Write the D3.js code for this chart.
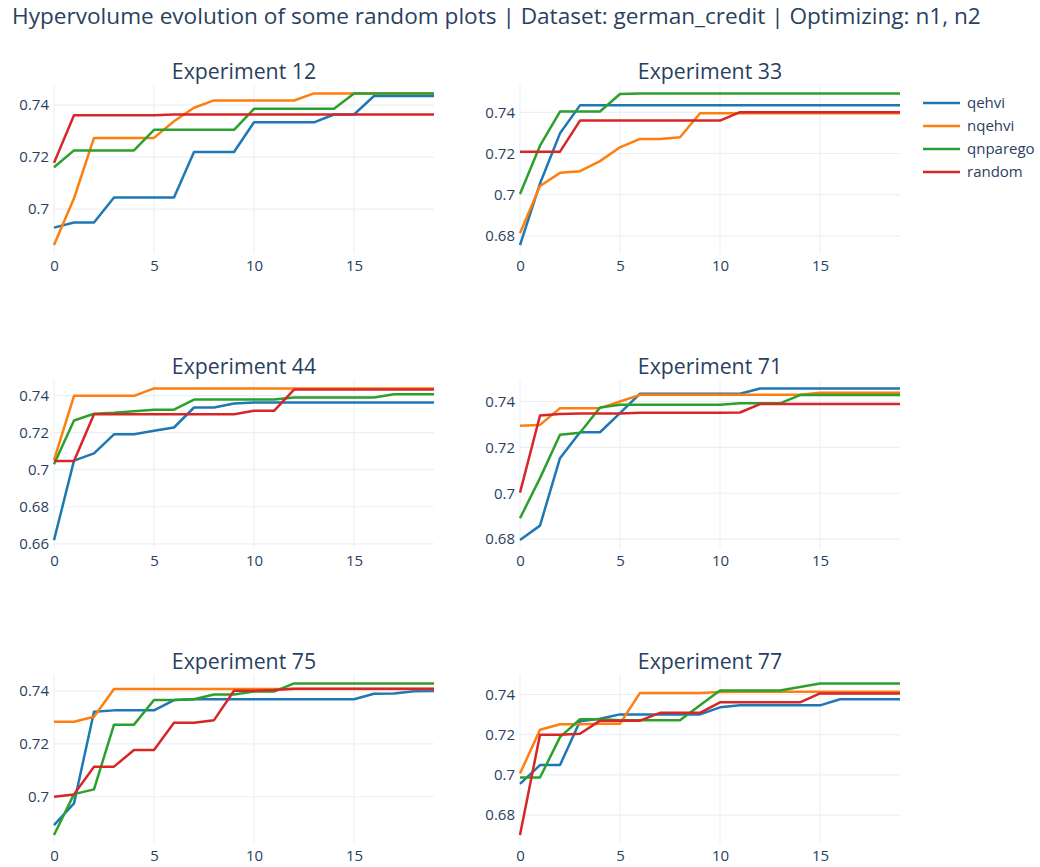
<!DOCTYPE html>
<html>
<head>
<meta charset="utf-8">
<script src="https://cdn.jsdelivr.net/npm/d3@7"></script>
<style>
  body { margin: 0; background: #fff; }
  svg { display: block; font-family: "Open Sans", verdana, arial, sans-serif; }
</style>
</head>
<body>
<svg id="chart"></svg>
<script>
let svgWidth = 1040, svgHeight = 867

// data
let steps = d3.range(20)
let methods = ['qehvi', 'nqehvi', 'qnparego', 'random']
let colors = ['#1f77b4', '#ff7f0e', '#2ca02c', '#d62728']
let experiments = ['Experiment 12', 'Experiment 33', 'Experiment 44', 'Experiment 71', 'Experiment 75', 'Experiment 77']

let exp12 = [
  [0.6929, 0.6949, 0.6949, 0.7045, 0.7045, 0.7045, 0.7045, 0.722, 0.722, 0.722, 0.7334, 0.7334, 0.7334, 0.7334, 0.7364, 0.7364, 0.7435, 0.7435, 0.7435, 0.7435],
  [0.6862, 0.7042, 0.7274, 0.7274, 0.7274, 0.7274, 0.7338, 0.739, 0.7418, 0.7418, 0.7418, 0.7418, 0.7418, 0.7445, 0.7445, 0.7445, 0.7445, 0.7445, 0.7445, 0.7445],
  [0.7161, 0.7226, 0.7226, 0.7226, 0.7226, 0.7305, 0.7305, 0.7305, 0.7305, 0.7305, 0.7386, 0.7386, 0.7386, 0.7386, 0.7386, 0.7445, 0.7445, 0.7445, 0.7445, 0.7445],
  [0.7178, 0.7361, 0.7361, 0.7361, 0.7361, 0.7361, 0.7364, 0.7364, 0.7364, 0.7364, 0.7364, 0.7364, 0.7364, 0.7364, 0.7364, 0.7364, 0.7364, 0.7364, 0.7364, 0.7364]
]
let exp33 = [
  [0.6755, 0.7054, 0.7298, 0.7434, 0.7434, 0.7434, 0.7434, 0.7434, 0.7434, 0.7434, 0.7434, 0.7434, 0.7434, 0.7434, 0.7434, 0.7434, 0.7434, 0.7434, 0.7434, 0.7434],
  [0.6813, 0.7042, 0.7106, 0.7114, 0.7163, 0.723, 0.7271, 0.7271, 0.7279, 0.7396, 0.7396, 0.7396, 0.7396, 0.7396, 0.7396, 0.7396, 0.7396, 0.7396, 0.7396, 0.7396],
  [0.7003, 0.7238, 0.7404, 0.7404, 0.7404, 0.7489, 0.7492, 0.7492, 0.7492, 0.7492, 0.7492, 0.7492, 0.7492, 0.7492, 0.7492, 0.7492, 0.7492, 0.7492, 0.7492, 0.7492],
  [0.7209, 0.7209, 0.7209, 0.736, 0.736, 0.736, 0.736, 0.736, 0.736, 0.736, 0.736, 0.7401, 0.7401, 0.7401, 0.7401, 0.7401, 0.7401, 0.7401, 0.7401, 0.7401]
]
let exp44 = [
  [0.662, 0.7049, 0.7088, 0.7191, 0.7191, 0.721, 0.7228, 0.7336, 0.7336, 0.7358, 0.7363, 0.7363, 0.7363, 0.7363, 0.7363, 0.7363, 0.7363, 0.7363, 0.7363, 0.7363],
  [0.7052, 0.7399, 0.7399, 0.7399, 0.7399, 0.7439, 0.7439, 0.7439, 0.7439, 0.7439, 0.7439, 0.7439, 0.7439, 0.7439, 0.7439, 0.7439, 0.7439, 0.7439, 0.7439, 0.7439],
  [0.7029, 0.7266, 0.7302, 0.7307, 0.7316, 0.7324, 0.7324, 0.7379, 0.7379, 0.7379, 0.7379, 0.7379, 0.739, 0.739, 0.739, 0.739, 0.739, 0.7408, 0.7408, 0.7408],
  [0.7047, 0.7047, 0.73, 0.73, 0.73, 0.73, 0.73, 0.73, 0.73, 0.73, 0.7318, 0.7318, 0.7433, 0.7433, 0.7433, 0.7433, 0.7433, 0.7433, 0.7433, 0.7433]
]
let exp71 = [
  [0.6796, 0.6859, 0.7153, 0.7266, 0.7266, 0.7349, 0.7434, 0.7434, 0.7434, 0.7434, 0.7434, 0.7434, 0.7457, 0.7457, 0.7457, 0.7457, 0.7457, 0.7457, 0.7457, 0.7457],
  [0.7294, 0.7298, 0.7371, 0.7371, 0.7371, 0.74, 0.7429, 0.7429, 0.7429, 0.7429, 0.7429, 0.7429, 0.7429, 0.7429, 0.7429, 0.7438, 0.7438, 0.7438, 0.7438, 0.7438],
  [0.6891, 0.7066, 0.7255, 0.7264, 0.7374, 0.7386, 0.7386, 0.7386, 0.7386, 0.7386, 0.7386, 0.7392, 0.7392, 0.7392, 0.7428, 0.7428, 0.7428, 0.7428, 0.7428, 0.7428],
  [0.7003, 0.7339, 0.7345, 0.7348, 0.7348, 0.7348, 0.7351, 0.7351, 0.7351, 0.7351, 0.7351, 0.7352, 0.7389, 0.7389, 0.7389, 0.7389, 0.7389, 0.7389, 0.7389, 0.7389]
]
let exp75 = [
  [0.6893, 0.6975, 0.7322, 0.7327, 0.7327, 0.7327, 0.7366, 0.7369, 0.7369, 0.7369, 0.7369, 0.7369, 0.7369, 0.7369, 0.7369, 0.7369, 0.739, 0.7391, 0.7399, 0.74],
  [0.7284, 0.7284, 0.7303, 0.7408, 0.7408, 0.7408, 0.7408, 0.7408, 0.7408, 0.7408, 0.7408, 0.7408, 0.7408, 0.7408, 0.7408, 0.7408, 0.7408, 0.7408, 0.7408, 0.7408],
  [0.6855, 0.701, 0.7028, 0.7273, 0.7273, 0.7366, 0.7366, 0.7369, 0.7387, 0.7387, 0.7398, 0.7398, 0.7429, 0.7429, 0.7429, 0.7429, 0.7429, 0.7429, 0.7429, 0.7429],
  [0.7, 0.7009, 0.7114, 0.7114, 0.7177, 0.7177, 0.728, 0.728, 0.729, 0.7401, 0.7401, 0.7404, 0.7409, 0.7409, 0.7409, 0.7409, 0.7409, 0.7409, 0.7409, 0.7409]
]
let exp77 = [
  [0.6956, 0.7049, 0.7049, 0.7267, 0.7279, 0.7301, 0.7301, 0.7301, 0.7301, 0.7301, 0.7336, 0.7346, 0.7346, 0.7346, 0.7346, 0.7346, 0.7376, 0.7376, 0.7376, 0.7376],
  [0.7007, 0.7225, 0.7252, 0.7252, 0.7255, 0.7255, 0.7408, 0.7408, 0.7408, 0.7408, 0.7412, 0.7413, 0.7413, 0.7413, 0.7413, 0.7413, 0.7413, 0.7413, 0.7413, 0.7413],
  [0.6987, 0.6987, 0.7188, 0.7277, 0.7277, 0.7272, 0.7272, 0.7272, 0.7272, 0.7346, 0.742, 0.742, 0.742, 0.742, 0.7437, 0.7455, 0.7455, 0.7455, 0.7455, 0.7455],
  [0.6701, 0.72, 0.72, 0.7205, 0.727, 0.727, 0.727, 0.7309, 0.7309, 0.7309, 0.7361, 0.7361, 0.7361, 0.7361, 0.7361, 0.7405, 0.7405, 0.7405, 0.7405, 0.7405]
]
let allExperiments = [exp12, exp33, exp44, exp71, exp75, exp77]

let textColor = '#2a3f5f', gridColor = '#ebf0f8'
let colLeft = [54, 520], plotW = 380
let rowTop = [85, 380, 675], plotH = 168.5

let svg = d3.select('#chart').attr('width', svgWidth).attr('height', svgHeight)

svg.append('text')
  .attr('x', 12).attr('y', 24)
  .attr('fill', textColor).style('font-size', '22.6px')
  .text('Hypervolume evolution of some random plots | Dataset: german_credit | Optimizing: n1, n2')

const drawPanel = (series, i) => {
  let x0 = colLeft[i % 2], y0 = rowTop[Math.floor(i / 2)]
  let g = svg.append('g').attr('transform', `translate(${x0},${y0})`)

  // plotly-like autorange: 5% of axis length padding on each side
  let lo = d3.min(series, s => d3.min(s)), hi = d3.max(series, s => d3.max(s))
  let pad = (hi - lo) * 0.05 / 0.9
  let x = d3.scaleLinear().domain([0, 19]).range([0, plotW])
  let y = d3.scaleLinear().domain([lo - pad, hi + pad]).range([plotH, 0])

  let yTicks = d3.range(Math.ceil((lo - pad) / 0.02 - 1e-9), Math.floor((hi + pad) / 0.02 + 1e-9) + 1).map(k => k * 0.02)
  let xTicks = [0, 5, 10, 15]

  g.append('g').selectAll('line').data(xTicks).enter().append('line')
    .attr('x1', d => x(d)).attr('x2', d => x(d)).attr('y1', 0).attr('y2', plotH)
    .attr('stroke', gridColor).attr('stroke-width', 1.2)
  g.append('g').selectAll('line').data(yTicks).enter().append('line')
    .attr('x1', 0).attr('x2', plotW).attr('y1', d => y(d)).attr('y2', d => y(d))
    .attr('stroke', gridColor).attr('stroke-width', 1.2)

  let yAxis = g.append('g').call(d3.axisLeft(y).tickValues(yTicks).tickSize(0).tickPadding(5).tickFormat(d => String(+d.toFixed(2))))
  let xAxis = g.append('g').attr('transform', `translate(0,${plotH})`)
    .call(d3.axisBottom(x).tickValues(xTicks).tickSize(0).tickPadding(7))
  ;[yAxis, xAxis].forEach(a => {
    a.select('.domain').remove()
    a.selectAll('text').attr('fill', textColor).style('font-size', '15px').style('font-family', '"Open Sans", verdana, arial, sans-serif')
  })

  let line = d3.line().x((d, k) => x(steps[k])).y(d => y(d))
  g.append('g').selectAll('path').data(series).enter().append('path')
    .attr('d', line)
    .attr('fill', 'none')
    .attr('stroke', (d, k) => colors[k])
    .attr('stroke-width', 2.5)
    .attr('stroke-linejoin', 'round')

  g.append('text')
    .attr('x', plotW / 2).attr('y', -6)
    .attr('text-anchor', 'middle')
    .attr('fill', textColor).style('font-size', '21.3px')
    .text(experiments[i])
}

allExperiments.forEach((series, i) => drawPanel(series, i))

// legend
let legend = svg.append('g').attr('transform', 'translate(923,103)')
let items = legend.selectAll('g').data(methods).enter().append('g')
  .attr('transform', (d, k) => `translate(0,${k * 23})`)
items.append('line').attr('x1', 0).attr('x2', 37).attr('y1', 0).attr('y2', 0)
  .attr('stroke', (d, k) => colors[k]).attr('stroke-width', 2.5)
items.append('text').attr('x', 44).attr('y', 0).attr('dy', '0.35em')
  .attr('fill', textColor).style('font-size', '15px')
  .text(d => d)
</script>
</body>
</html>
